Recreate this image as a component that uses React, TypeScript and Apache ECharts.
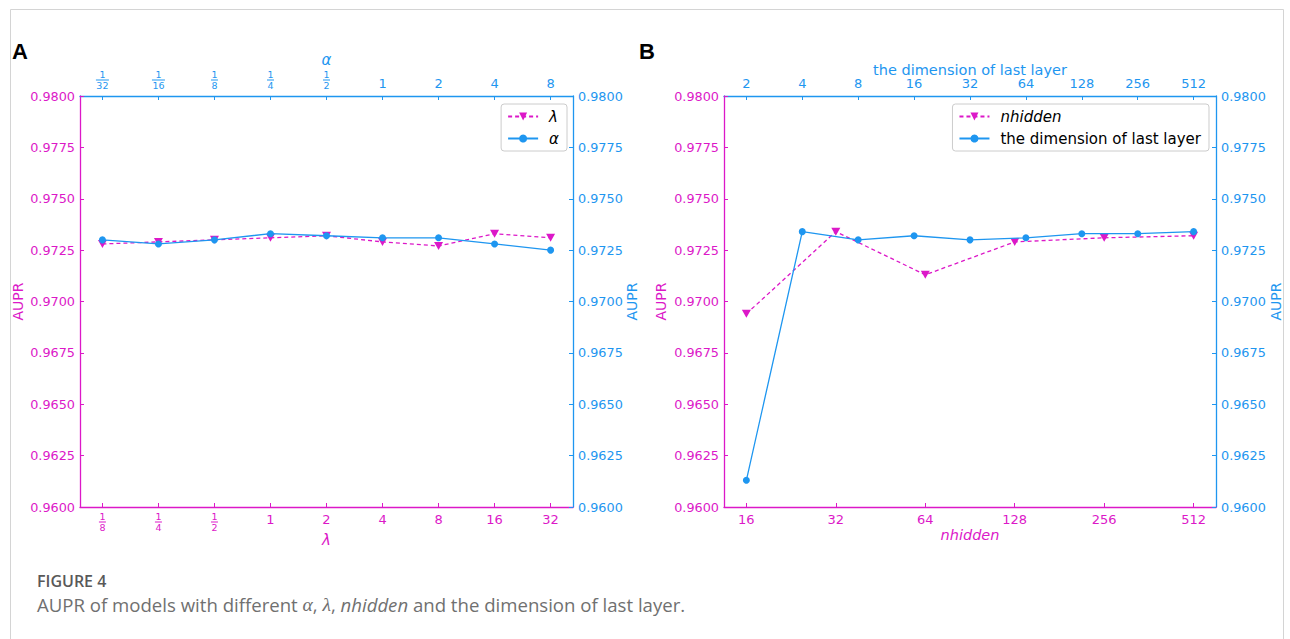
import React, { useEffect, useRef } from 'react';
import * as echarts from 'echarts';

const MAGENTA = '#dc18c8';
const BLUE = '#1e96f0';
const FONT = 'DejaVu Sans';

const lambdaLabels = ['1/8', '1/4', '1/2', '1', '2', '4', '8', '16', '32'];
const lambdaValues = [0.9728, 0.9729, 0.973, 0.9731, 0.9732, 0.9729, 0.9727, 0.9733, 0.9731];
const alphaLabels = ['1/32', '1/16', '1/8', '1/4', '1/2', '1', '2', '4', '8'];
const alphaValues = [0.973, 0.9728, 0.973, 0.9733, 0.9732, 0.9731, 0.9731, 0.9728, 0.9725];
const nhiddenLabels = ['16', '32', '64', '128', '256', '512'];
const nhiddenValues = [0.9694, 0.9734, 0.9713, 0.9729, 0.9731, 0.9732];
const dimLabels = ['2', '4', '8', '16', '32', '64', '128', '256', '512'];
const dimValues = [0.9613, 0.9734, 0.973, 0.9732, 0.973, 0.9731, 0.9733, 0.9733, 0.9734];

const Y_MIN = 0.96;
const Y_MAX = 0.98;
const Y_STEP = 0.0025;

const TRI_DOWN = 'path://M0,0L10,0L5,8.66Z';

function fracFormatter(labels: string[]) {
  return (v: number) => {
    const i = Math.round(v);
    const s = labels[i];
    if (s == null) return '';
    if (s.indexOf('/') >= 0) {
      const [a, b] = s.split('/');
      const w = b.length > 1 ? 'w2' : 'w1';
      return `{n|${a}}\n{${w}| }\n{n|${b}}`;
    }
    return `{i|${s}}`;
  };
}

function richFor(color: string) {
  return {
    n: { fontSize: 9.5, lineHeight: 8.5, color, fontFamily: FONT },
    w1: { width: 7, height: 1, lineHeight: 3, backgroundColor: color, fontSize: 1 },
    w2: { width: 13, height: 1, lineHeight: 3, backgroundColor: color, fontSize: 1 },
    i: { fontSize: 13, lineHeight: 14, color, fontFamily: FONT },
  };
}

function makeX(
  gridIndex: number,
  position: 'top' | 'bottom',
  color: string,
  labels: string[],
  margin: number,
  name: string,
  nameGap: number,
  nameStyle: any
) {
  const idx = labels.map((_, i) => i);
  const pad = (labels.length - 1) * 0.05;
  return {
    type: 'value',
    gridIndex,
    position,
    min: -pad,
    max: labels.length - 1 + pad,
    name,
    nameLocation: 'middle',
    nameGap,
    nameMoveOverlap: false,
    nameTextStyle: { color, fontFamily: FONT, ...nameStyle },
    axisLine: { show: true, onZero: false, lineStyle: { color, width: 1.3 } },
    axisTick: { show: true, inside: true, length: 4, customValues: idx, lineStyle: { color, width: 1 } },
    axisLabel: {
      show: true,
      customValues: idx,
      margin,
      color,
      fontFamily: FONT,
      formatter: fracFormatter(labels),
      rich: richFor(color),
    },
    splitLine: { show: false },
  };
}

function makeY(gridIndex: number, position: 'left' | 'right', color: string, nameGap: number) {
  return {
    type: 'value',
    gridIndex,
    position,
    min: Y_MIN,
    max: Y_MAX,
    interval: Y_STEP,
    name: 'AUPR',
    nameLocation: 'middle',
    nameGap,
    nameRotate: 90,
    nameMoveOverlap: false,
    nameTextStyle: { color, fontFamily: FONT, fontSize: 14 },
    axisLine: { show: true, onZero: false, lineStyle: { color, width: 1.3 } },
    axisTick: { show: true, inside: true, length: 4, lineStyle: { color, width: 1 } },
    axisLabel: {
      margin: 5,
      color,
      fontFamily: FONT,
      fontSize: 12.8,
      formatter: (v: number) => v.toFixed(4),
    },
    splitLine: { show: false },
  };
}

function dashedSeries(name: string, xi: number, yi: number, values: number[]) {
  return {
    type: 'line',
    name,
    xAxisIndex: xi,
    yAxisIndex: yi,
    data: values.map((v, i) => [i, v]),
    symbol: TRI_DOWN,
    symbolSize: [9, 8],
    lineStyle: { color: MAGENTA, width: 1.3, type: [4, 3] },
    itemStyle: { color: MAGENTA },
    z: 3,
  };
}

function solidSeries(name: string, xi: number, yi: number, values: number[]) {
  return {
    type: 'line',
    name,
    xAxisIndex: xi,
    yAxisIndex: yi,
    data: values.map((v, i) => [i, v]),
    symbol: 'circle',
    symbolSize: 7,
    lineStyle: { color: BLUE, width: 1.3 },
    itemStyle: { color: BLUE },
    z: 4,
  };
}

function legendFor(data: string[], right: number) {
  return {
    data,
    orient: 'vertical',
    right,
    top: 104,
    padding: [5, 8, 5, 6],
    itemGap: 7,
    itemWidth: 30,
    itemHeight: 10,
    borderColor: '#cccccc',
    borderWidth: 1,
    borderRadius: 3,
    backgroundColor: '#ffffff',
    formatter: (n: string) => (n === 'λ' || n === 'α' || n === 'nhidden' ? `{it|${n}}` : `{up|${n}}`),
    textStyle: {
      color: '#000',
      fontFamily: FONT,
      fontSize: 15,
      rich: {
        it: { fontStyle: 'italic', fontSize: 15, lineHeight: 16, fontFamily: FONT, padding: [0, 0, 0, 6] },
        up: { fontSize: 15, lineHeight: 16, fontFamily: FONT, padding: [0, 0, 0, 6] },
      },
    },
  };
}

export default function App() {
  const ref = useRef<HTMLDivElement>(null);
  useEffect(() => {
    if (!ref.current) return;
    const chart = echarts.init(ref.current, undefined, { renderer: 'svg' });
    const option: any = {
      animation: false,
      backgroundColor: '#ffffff',
      grid: [
        { left: 80, top: 96, width: 493, height: 411 },
        { left: 724, top: 96, width: 492, height: 411 },
      ],
      xAxis: [
        makeX(0, 'bottom', MAGENTA, lambdaLabels, 5, 'λ', 25, { fontStyle: 'italic', fontSize: 15 }),
        makeX(0, 'top', BLUE, alphaLabels, 6, 'α', 29, { fontStyle: 'italic', fontSize: 15 }),
        makeX(1, 'bottom', MAGENTA, nhiddenLabels, 5, 'nhidden', 20, { fontStyle: 'italic', fontSize: 14.5 }),
        makeX(1, 'top', BLUE, dimLabels, 6, 'the dimension of last layer', 19, { fontSize: 14.5 }),
      ],
      yAxis: [
        makeY(0, 'left', MAGENTA, 55),
        makeY(0, 'right', BLUE, 52),
        makeY(1, 'left', MAGENTA, 56),
        makeY(1, 'right', BLUE, 53),
      ],
      legend: [legendFor(['λ', 'α'], 1290 - 567), legendFor(['nhidden', 'the dimension of last layer'], 1290 - 1209)],
      series: [
        dashedSeries('λ', 0, 0, lambdaValues),
        solidSeries('α', 1, 1, alphaValues),
        dashedSeries('nhidden', 2, 2, nhiddenValues),
        solidSeries('the dimension of last layer', 3, 3, dimValues),
      ],
      graphic: [
        {
          type: 'rect',
          shape: { x: 10.5, y: 9.5, width: 1273, height: 700 },
          style: { fill: 'none', stroke: '#d4d4d4', lineWidth: 1 },
          silent: true,
        },
        {
          type: 'text',
          left: 12,
          top: 40,
          style: { text: 'A', font: 'bold 22px "Liberation Sans"', fill: '#000' },
        },
        {
          type: 'text',
          left: 639,
          top: 40,
          style: { text: 'B', font: 'bold 22px "Liberation Sans"', fill: '#000' },
        },
        {
          type: 'text',
          left: 37,
          top: 573,
          style: { text: 'FIGURE 4', font: '600 16px "Open Sans"', fill: '#595959' },
        },
        {
          type: 'text',
          left: 37,
          top: 594,
          style: {
            text: '{t|AUPR of models with different }{s|α}{t|, }{s|λ}{t|, }{i|nhidden}{t| and the dimension of last layer.}',
            rich: {
              t: { fontFamily: 'Open Sans', fontSize: 18.6, fill: '#707070' },
              s: { fontFamily: 'Liberation Serif', fontStyle: 'italic', fontSize: 19.5, fill: '#707070' },
              i: { fontFamily: 'Open Sans', fontStyle: 'italic', fontSize: 18.6, fill: '#707070' },
            },
          },
        },
      ],
    };
    chart.setOption(option);
    return () => chart.dispose();
  }, []);
  return <div ref={ref} style={{ position: 'fixed', left: 0, top: 0, width: 1290, height: 639 }} />;
}
